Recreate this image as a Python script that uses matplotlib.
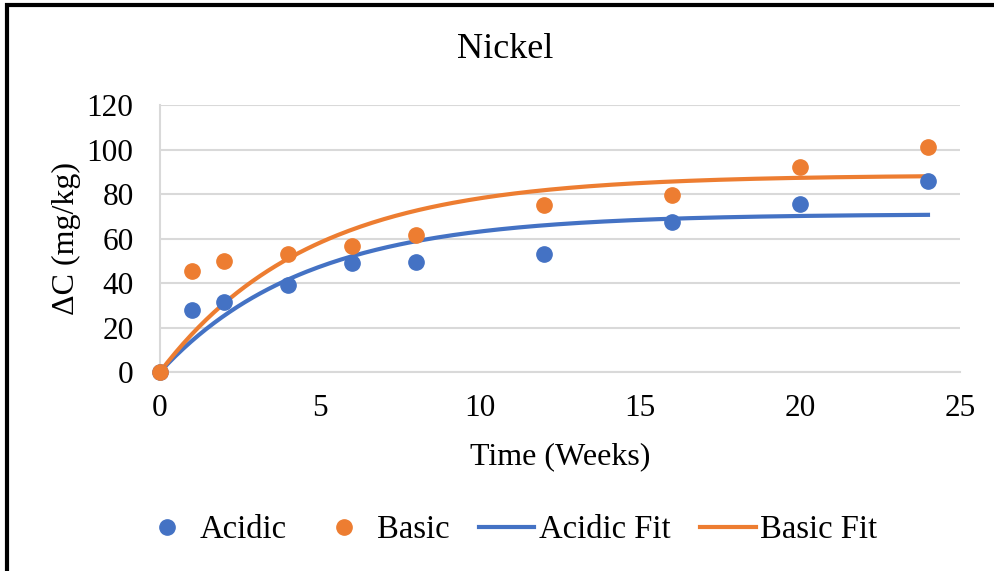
import numpy as np
import matplotlib.pyplot as plt
from matplotlib.patches import Rectangle
from matplotlib.lines import Line2D

# sampling times (weeks)
weeks = [0, 1, 2, 4, 6, 8, 12, 16, 20, 24]
acidic = [0, 28, 31.5, 39, 49, 49.5, 53, 67.5, 75.5, 86]
basic = [0, 45.5, 50, 53, 56.5, 61.5, 75, 79.5, 92, 101]

# first-order fit parameters: C = cmax * (1 - exp(-k t))
acidic_fit = {"cmax": 71.0, "k": 0.22}
basic_fit = {"cmax": 88.5, "k": 0.214}

BLUE = "#4472C4"
ORANGE = "#ED7D31"

plt.rcParams['font.family'] = ['Liberation Serif', 'DejaVu Serif']

fig = plt.figure(figsize=(9.95, 5.71), dpi=100)
ax = fig.add_axes([0.1608, 0.3485, 0.8040, 0.4676])

t = np.linspace(0, max(weeks), 200)
ax.plot(t, acidic_fit["cmax"] * (1 - np.exp(-acidic_fit["k"] * t)), color=BLUE, lw=3, zorder=3)
ax.plot(t, basic_fit["cmax"] * (1 - np.exp(-basic_fit["k"] * t)), color=ORANGE, lw=3, zorder=3)
ax.plot(weeks, acidic, 'o', color=BLUE, ms=11, zorder=4, clip_on=False)
ax.plot(weeks, basic, 'o', color=ORANGE, ms=11, zorder=4, clip_on=False)

ax.set_xlim(0, 25)
ax.set_ylim(0, 120)
ax.set_xticks(range(0, 26, 5))
ax.set_yticks(range(0, 121, 20))
ax.grid(axis='y', color='#D9D9D9', lw=1.5)
ax.set_axisbelow(True)
for s in ['top', 'right']:
    ax.spines[s].set_visible(False)
for s in ['left', 'bottom']:
    ax.spines[s].set_color('#D9D9D9')
    ax.spines[s].set_linewidth(1.5)
ax.tick_params(length=0, labelsize=22.5)
ax.tick_params(axis='x', pad=16)
ax.tick_params(axis='y', pad=19)

fig.text(505 / 995, 1 - 50 / 571, "Nickel", fontsize=26, ha='center', va='center')
ax.set_xlabel("Time (Weeks)", fontsize=23, labelpad=14)
ax.set_ylabel("ΔC (mg/kg)", fontsize=23, labelpad=4)

handles = [
    Line2D([], [], ls='none', marker='o', color=BLUE, ms=11),
    Line2D([], [], ls='none', marker='o', color=ORANGE, ms=11),
    Line2D([], [], color=BLUE, lw=3),
    Line2D([], [], color=ORANGE, lw=3),
]
fig.legend(handles, ["Acidic", "Basic", "Acidic Fit", "Basic Fit"], loc='center',
           bbox_to_anchor=(0.511, 1 - 530 / 571), ncol=4, frameon=False, fontsize=23.5,
           handlelength=1.7, handletextpad=0.15, columnspacing=0.9, borderaxespad=0)

# outer chart frame (cropped on right/bottom)
fig.patches.append(Rectangle((7 / 995, -0.1), 1.2, 1 - 5 / 571 + 0.1, transform=fig.transFigure,
                             fill=False, ec='black', lw=3))

fig.savefig("out.png", dpi=100)
